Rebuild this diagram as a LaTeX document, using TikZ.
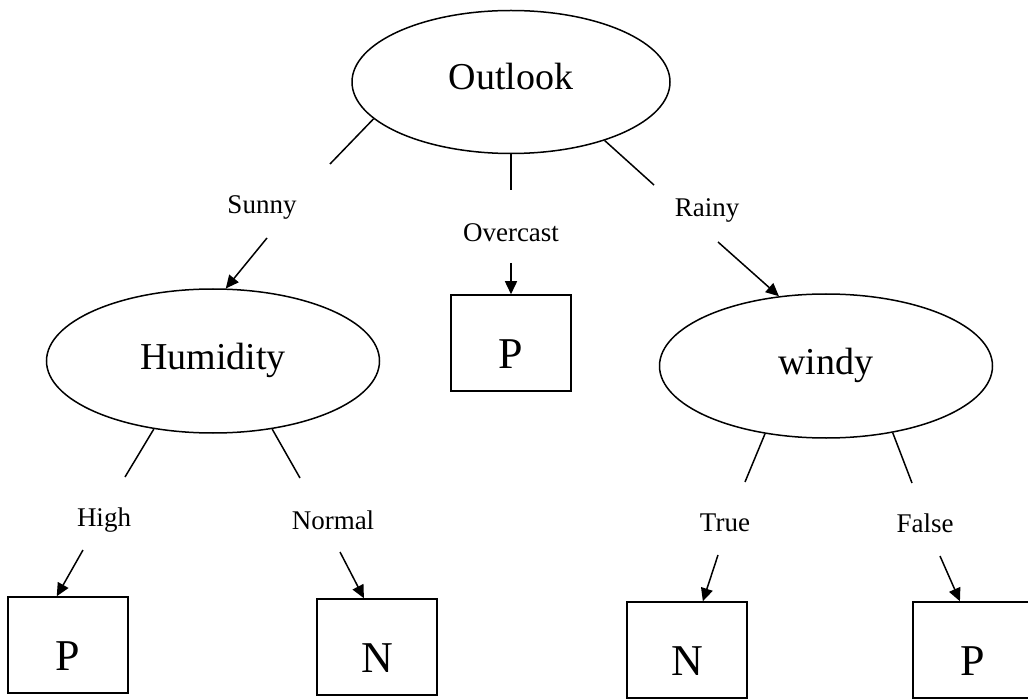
\documentclass[tikz,border=0pt]{standalone}
\usepackage{fontspec}
\setmainfont{Liberation Serif}
\usetikzlibrary{arrows.meta, shapes.geometric}

\begin{document}
\begin{tikzpicture}[
  x=0.5pt, y=-0.5pt,
  attr/.style={draw, ellipse, minimum width=166.5pt, minimum height=72pt, text height=13pt, text depth=5pt, font=\fontsize{19}{22}\selectfont},
  leaf/.style={draw, minimum width=60pt, minimum height=48pt, text height=25.6pt, text depth=0pt, font=\fontsize{22}{26}\selectfont},
  lbl/.style={inner sep=1pt, font=\fontsize{13.5}{16}\selectfont},
  line width=0.75pt,
  >={Triangle[length=6.5pt, width=6pt]}
]
\useasboundingbox (0,0) rectangle (1028,700);
% attribute nodes
\node[attr, minimum width=159pt, minimum height=71.5pt] (outlook) at (511,82) {Outlook};
\node[attr] (humidity) at (213,361) {Humidity};
\node[attr] (windy) at (826,366) {windy};
% leaves
\node[leaf] (overP) at (511,343) {P};
\node[leaf] (highP) at (68,645) {P};
\node[leaf] (normN) at (377,647) {N};
\node[leaf] (trueN) at (687,650) {N};
\node[leaf] (falseP) at (973,650) {P};
% branch labels
\node[lbl] (sunny) at (262,207) {Sunny};
\node[lbl] (overcast) at (511,233) {Overcast};
\node[lbl] (rainy) at (707,210) {Rainy};
\node[lbl] (high) at (104,520) {High};
\node[lbl] (normal) at (333,520) {Normal};
\node[lbl] (true) at (725,523) {True};
\node[lbl] (false) at (925,523) {False};
% ends of the broken branches
\coordinate (sunnyT) at (330,164);    \coordinate (sunnyB) at (267,238);
\coordinate (overT) at (511,190);     \coordinate (overB) at (511,263);
\coordinate (rainyT) at (654,185);    \coordinate (rainyB) at (718,242);
\coordinate (highT) at (125,477);     \coordinate (highB) at (83,550);
\coordinate (normalT) at (300,478);   \coordinate (normalB) at (340,552);
\coordinate (trueT) at (745,482);     \coordinate (trueB) at (718,555);
\coordinate (falseT) at (912,483);    \coordinate (falseB) at (940,556);
% branches
\draw (outlook.195) -- (sunnyT);
\draw[->] (sunnyB) -- (humidity.80);
\draw (outlook.270) -- (overT);
\draw[->] (overB) -- (overP.north);
\draw (outlook.328) -- (rainyT);
\draw[->] (rainyB) -- (windy.124);
\draw (humidity.229) -- (highT);
\draw[->] (highB) -- (highP.103);
\draw (humidity.311) -- (normalT);
\draw[->] (normalB) -- (normN.105);
\draw (windy.228) -- (trueT);
\draw[->] (trueB) -- (trueN.72);
\draw (windy.315) -- (falseT);
\draw[->] (falseB) -- (falseP.105);
\end{tikzpicture}
\end{document}
